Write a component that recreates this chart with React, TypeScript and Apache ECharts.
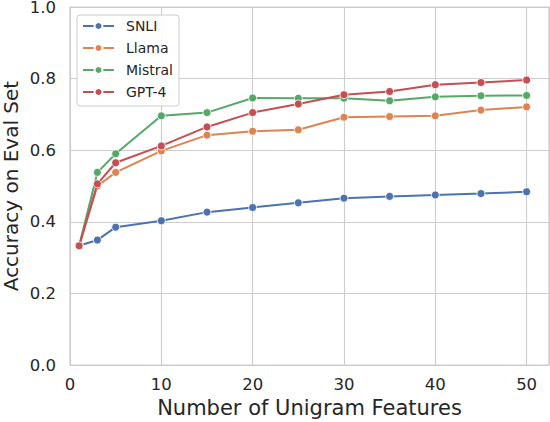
import React, { useEffect, useRef } from "react";
import * as echarts from "echarts";

const xValues = [1, 3, 5, 10, 15, 20, 25, 30, 35, 40, 45, 50];
const snli = [0.333, 0.349, 0.385, 0.403, 0.427, 0.44, 0.453, 0.466, 0.471, 0.475, 0.479, 0.484];
const llama = [0.333, 0.5, 0.538, 0.598, 0.642, 0.653, 0.657, 0.692, 0.694, 0.696, 0.712, 0.721];
const mistral = [0.333, 0.538, 0.59, 0.696, 0.705, 0.746, 0.745, 0.745, 0.738, 0.749, 0.752, 0.753];
const gpt4 = [0.333, 0.506, 0.565, 0.612, 0.665, 0.705, 0.729, 0.755, 0.764, 0.783, 0.789, 0.796];

const seriesNames = ["SNLI", "Llama", "Mistral", "GPT-4"];
const seriesValues = [snli, llama, mistral, gpt4];
const colors = ["#4C72B0", "#DD8452", "#55A868", "#C44E52"];

const FONT = "DejaVu Sans";
const TEXT = "#262626";

export default function App() {
  const ref = useRef<HTMLDivElement>(null);
  useEffect(() => {
    if (!ref.current) return;
    const chart = echarts.init(ref.current, null, { renderer: "svg" });
    chart.setOption({
      animation: false,
      backgroundColor: "#ffffff",
      textStyle: { fontFamily: FONT, color: TEXT },
      grid: {
        left: 70,
        top: 7,
        right: 1,
        bottom: 57,
        containLabel: false,
        outerBoundsMode: "none",
        show: true,
        borderColor: "#cccccc",
        borderWidth: 1.25,
        backgroundColor: "transparent",
      },
      legend: {
        orient: "vertical",
        left: 77,
        top: 15,
        padding: [0, 6, 3, 5],
        itemGap: 0,
        itemWidth: 31,
        itemHeight: 10,
        backgroundColor: "rgba(255,255,255,0.85)",
        borderColor: "#cccccc",
        borderWidth: 1,
        borderRadius: 3,
        textStyle: {
          fontFamily: FONT,
          fontSize: 14,
          color: TEXT,
          lineHeight: 22,
          padding: [0, 0, 0, 7],
        },
        data: seriesNames,
      },
      xAxis: {
        type: "value",
        min: 0,
        max: 52.45,
        interval: 10,
        name: "Number of Unigram Features",
        nameLocation: "middle",
        nameGap: 32,
        nameMoveOverlap: false,
        nameTextStyle: { fontFamily: FONT, fontSize: 21, color: TEXT },
        axisLine: { show: false },
        axisTick: { show: false },
        axisLabel: {
          fontFamily: FONT,
          fontSize: 16.5,
          color: TEXT,
          margin: 11,
          formatter: (v: number) => (Math.abs(v % 10) < 1e-6 ? String(v) : ""),
        },
        splitLine: { show: true, lineStyle: { color: "#cccccc", width: 1.1 } },
      },
      yAxis: {
        type: "value",
        min: 0,
        max: 1,
        interval: 0.2,
        name: "Accuracy on Eval Set",
        nameLocation: "middle",
        nameGap: 49,
        nameMoveOverlap: false,
        nameTextStyle: { fontFamily: FONT, fontSize: 20, color: TEXT, lineHeight: 20 },
        axisLine: { show: false },
        axisTick: { show: false },
        axisLabel: {
          fontFamily: FONT,
          fontSize: 16.5,
          lineHeight: 14,
          padding: [4, 0, 0, 0],
          color: TEXT,
          margin: 14,
          formatter: (v: number) => v.toFixed(1),
        },
        splitLine: { show: true, lineStyle: { color: "#cccccc", width: 1.1 } },
      },
      series: seriesNames.map((name, i) => ({
        name,
        type: "line",
        data: xValues.map((x, j) => [x, seriesValues[i][j]]),
        symbol: "circle",
        symbolSize: 8,
        showSymbol: true,
        lineStyle: { color: colors[i], width: 2 },
        itemStyle: { color: colors[i], borderColor: "#ffffff", borderWidth: 0.8 },
        emphasis: { disabled: true },
        z: 2 + i,
      })),
    });
    return () => chart.dispose();
  }, []);
  return (
    <div
      ref={ref}
      style={{ position: "absolute", left: 0, top: 0, width: 550, height: 422 }}
    />
  );
}
